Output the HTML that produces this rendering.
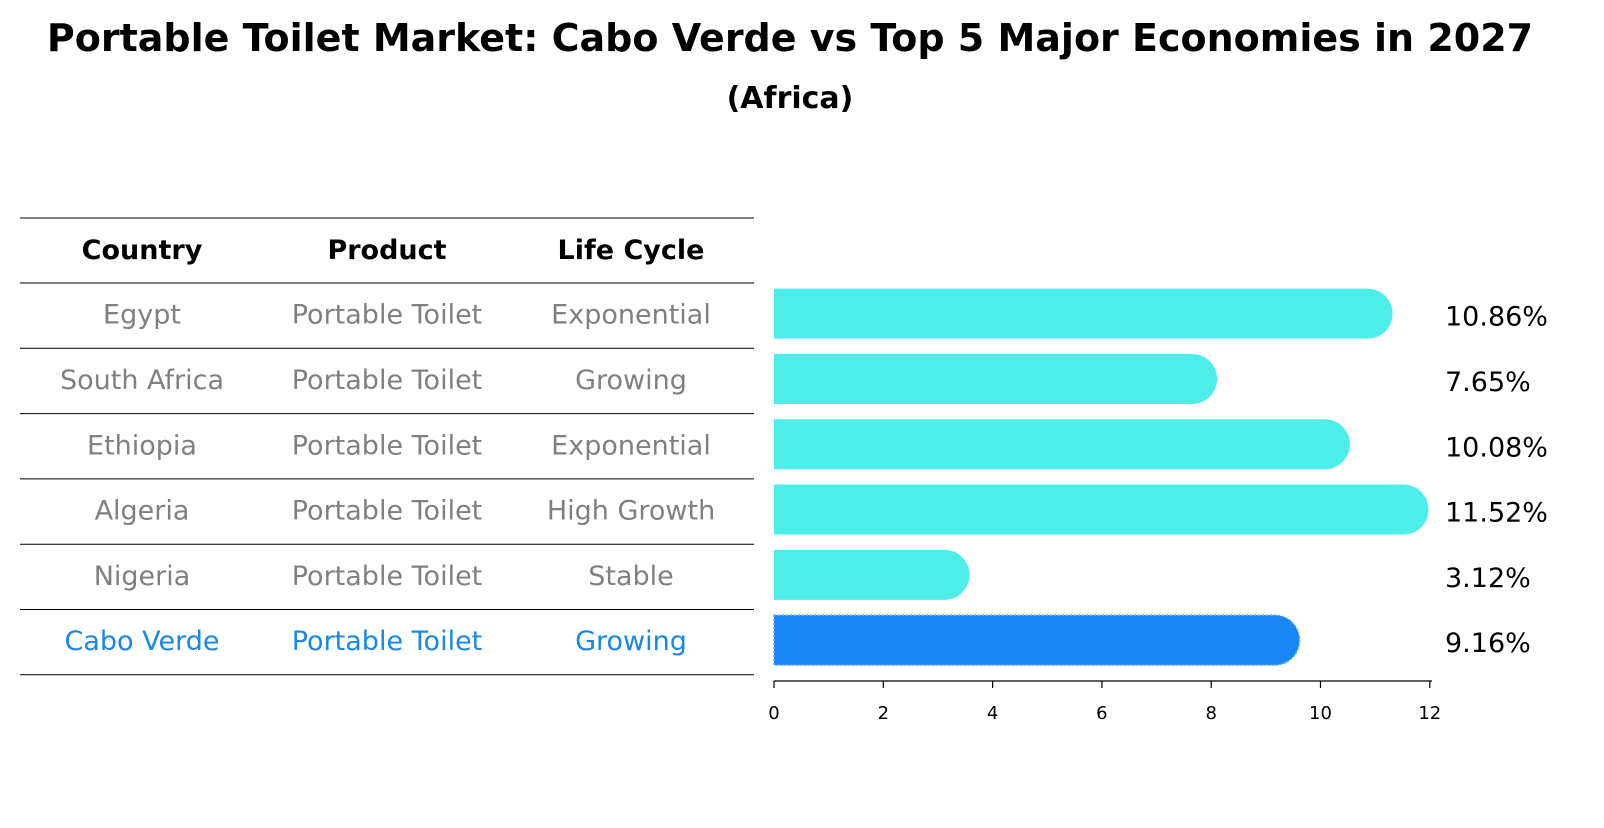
<!DOCTYPE html>
<html><head><meta charset="utf-8"><style>
body{margin:0;background:#fff;font-family:"Liberation Sans","DejaVu Sans",sans-serif}
</style></head><body>
<svg id="chart" width="1604" height="823" xmlns="http://www.w3.org/2000/svg" font-family="DejaVu Sans, Liberation Sans, sans-serif">
<rect width="1604" height="823" fill="#fff"/>
<text x="790" y="51" text-anchor="middle" style="font-size:38px" font-weight="bold">Portable Toilet Market: Cabo Verde vs Top 5 Major Economies in 2027</text>
<text x="790" y="108" text-anchor="middle" style="font-size:30px" font-weight="bold">(Africa)</text>
<g id="table"></g>
<g id="bars"></g>
<g id="axis"></g>
</svg>
<script>
const countries=["Egypt","South Africa","Ethiopia","Algeria","Nigeria","Cabo Verde"];
const products=["Portable Toilet","Portable Toilet","Portable Toilet","Portable Toilet","Portable Toilet","Portable Toilet"];
const lifeCycles=["Exponential","Growing","Exponential","High Growth","Stable","Growing"];
const values=[10.86,7.65,10.08,11.52,3.12,9.16];
const ticks=[0,2,4,6,8,10,12];
const NS="http://www.w3.org/2000/svg";
function mk(tag,attrs,parent,txt){const e=document.createElementNS(NS,tag);for(const k in attrs)e.setAttribute(k,attrs[k]);if(txt!==undefined)e.textContent=txt;parent.appendChild(e);return e;}
const x0=774,pxPerUnit=54.65;
function xs(v){return x0+v*pxPerUnit;}
const rowTop=283,rowH=65.3;
function yc(i){return rowTop+rowH*i+rowH/2;}
const table=document.getElementById('table');
const cols=[142,387,631];
const hdr=["Country","Product","Life Cycle"];
hdr.forEach((h,j)=>{const t=mk('text',{x:cols[j],y:259,'text-anchor':'middle',style:'font-size:27px','font-weight':'bold'},table,h);

});
for(let i=0;i<=countries.length+1;i++){
  const y=i===0?218:rowTop+rowH*(i-1);
  const l=mk('line',{x1:20,x2:754,y1:y,y2:y,stroke:'#000','stroke-width':1},table);
  
  
}
countries.forEach((c,i)=>{
  const col=i===countries.length-1?'#1a86e6':'#808080';
  [c,products[i],lifeCycles[i]].forEach((v,j)=>{
    const t=mk('text',{x:cols[j],y:yc(i)+8,'text-anchor':'middle',style:'font-size:27px',fill:col},table,v);
    
    
  });
});
const bars=document.getElementById('bars');
const bh=50;
values.forEach((v,i)=>{
  const y=yc(i)-bh/2-2;
  const col=i===values.length-1?'#1a86f5':'#4deeea';
  const w=xs(v)-x0;
  const p=mk('path',{d:`M${x0},${y} h${w} a${bh/2},${bh/2} 0 0 1 0,${bh} h${-w} Z`,fill:col},bars);
  if(i===values.length-1){p.setAttribute('stroke','#5aa8ff');p.setAttribute('stroke-dasharray','2,2');p.setAttribute('stroke-width','1.5');}
  
  
  const t=mk('text',{x:1445,y:y+bh/2+12,style:'font-size:27px',fill:'#000'},bars,v.toFixed(2)+'%');
  
  
});
const axis=document.getElementById('axis');
const al=mk('line',{x1:x0,x2:1432,y1:681,y2:681,stroke:'#000','stroke-width':1.2},axis);


ticks.forEach(t=>{
  const tl=mk('line',{x1:xs(t),x2:xs(t),y1:681,y2:688,stroke:'#000','stroke-width':1.2},axis);
  
  
  const tx=mk('text',{x:xs(t),y:719,'text-anchor':'middle',style:'font-size:18px'},axis,String(t));
  
  
});
</script>
</body></html>
